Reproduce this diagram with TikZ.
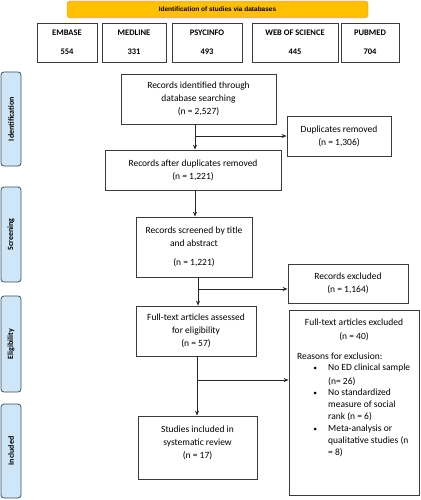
\documentclass[tikz,border=0pt]{standalone}
\usepackage{fontspec}
\setmainfont{Carlito}
\newfontfamily\arialf{Liberation Sans}
\usetikzlibrary{arrows.meta}
\definecolor{boxgray}{HTML}{3A3A3A}
\definecolor{phasefill}{HTML}{CFE6F8}
\definecolor{phasedraw}{HTML}{3E4F5E}
\definecolor{gold}{HTML}{FFC000}
\definecolor{golddraw}{HTML}{D9A000}
\begin{document}
\begin{tikzpicture}[x=1pt,y=-1pt,
  box/.style={draw=boxgray, line width=0.8pt, fill=white, inner sep=0pt, align=center,
    font=\fontsize{9.5}{13}\selectfont},
  dbbox/.style={box, font=\bfseries\fontsize{8.5}{10}\selectfont, minimum height=39pt},
  phase/.style={draw=phasedraw, fill=phasefill, line width=0.8pt, rounded corners=3pt,
    rotate=90, minimum height=20pt, inner sep=0pt, font=\bfseries\fontsize{8}{10}\selectfont},
  txt/.style={inner sep=0pt, font=\fontsize{9.5}{13}\selectfont, text height=6.5pt, text depth=2pt},
  arr/.style={draw=black!85, line width=0.8pt, -{Stealth[length=5pt,width=4pt]}}
]
\useasboundingbox (0,0) rectangle (420,500);

% banner
\node[draw=golddraw, fill=gold, rounded corners=3pt, minimum width=301pt, minimum height=17pt,
  inner sep=0pt, font=\arialf\bfseries\fontsize{6.5}{8}\selectfont] (ban) at (217.5,9.5)
  {Identification of studies via databases};

% databases
\node[dbbox, minimum width=60pt] (emb) at (67,42.5) {EMBASE\\[9pt]554};
\node[dbbox, minimum width=64pt] (med) at (134,42.5) {MEDLINE\\[9pt]331};
\node[dbbox, minimum width=70pt] (psy) at (207,42.5) {PSYCINFO\\[9pt]493};
\node[dbbox, minimum width=86pt] (wos) at (295,42.5) {WEB OF SCIENCE\\[9pt]445};
\node[dbbox, minimum width=58pt] (pub) at (370,42.5) {PUBMED\\[9pt]704};

% phases
\node[phase, minimum width=94pt] (p1) at (11,119) {Identification};
\node[phase, minimum width=95pt] (p2) at (11,234.5) {Screening};
\node[phase, minimum width=96pt] (p3) at (11,344) {Eligibility};
\node[phase, minimum width=94pt] (p4) at (11,451) {Included};

% main boxes
\node[box, minimum width=155pt, minimum height=50pt] (rid) at (198.5,99)
  {Records identified through\\database searching\\(n = 2,527)};
\node[box, minimum width=104pt, minimum height=40pt] (dup) at (339,136)
  {Duplicates removed\\(n = 1,306)};
\node[box, minimum width=176pt, minimum height=40pt] (rad) at (193,170)
  {Records after duplicates removed\\(n = 1,221)};
\node[box, minimum width=116pt, minimum height=60pt] (rsc) at (194,247)
  {Records screened by title\\and abstract\\[6pt](n = 1,221)};
\node[box, minimum width=120pt, minimum height=39pt] (rex) at (348,283.5)
  {Records excluded\\(n = 1,164)};
\node[box, minimum width=120pt, minimum height=50pt] (fta) at (196,331)
  {Full-text articles assessed\\for eligibility\\(n = 57)};
\node[box, minimum width=119pt, minimum height=63pt] (inc) at (197.5,447.5) {};
\node[txt, align=center, text height=, text depth=] (inct) at (197.5,443)
  {Studies included in\\systematic review\\(n = 17)};
\node[box, minimum width=130pt, minimum height=185pt] (fte) at (354,402.5) {};

% excluded full-text contents
\node[txt] (e1) at (354,323) {Full-text articles excluded};
\node[txt] (e2) at (354,337) {(n = 40)};
\node[txt, anchor=west] (e3) at (297,357) {Reasons for exclusion:};
\foreach \n/\y/\t in {a/368/No ED clinical sample, b/382/(n= 26), c/393/No standardized,
  d/405/measure of social, e/417/rank (n = 6), f/429/Meta-analysis or,
  g/441/qualitative studies (n, h/453/= 8)} {
  \node[txt, anchor=west] (l\n) at (328,\y) {\t};
}
\foreach \n/\y in {1/368, 2/393, 3/429} {
  \node[circle, fill=black, inner sep=0pt, minimum size=3pt] (bu\n) at (315,\y) {};
}

% connector coordinates
\coordinate (x1) at (195,0);
\coordinate (x3) at (198,0);
\coordinate (x4) at (197,0);
\coordinate (y3) at (0,289);
\coordinate (y4) at (0,380);

\draw[arr] (rid.south -| x1) -- (rad.north -| x1);
\draw[arr] (dup.west -| x1) -- (dup.west);
\draw[arr] (rad.south -| x1) -- (rsc.north -| x1);
\draw[arr] (rsc.south -| x3) -- (fta.north -| x3);
\draw[arr] (x3 |- y3) -- (rex.west |- y3);
\draw[arr] (fta.south -| x4) -- (inc.north -| x4);
\draw[arr] (x4 |- y4) -- (fte.west |- y4);
\end{tikzpicture}
\end{document}
